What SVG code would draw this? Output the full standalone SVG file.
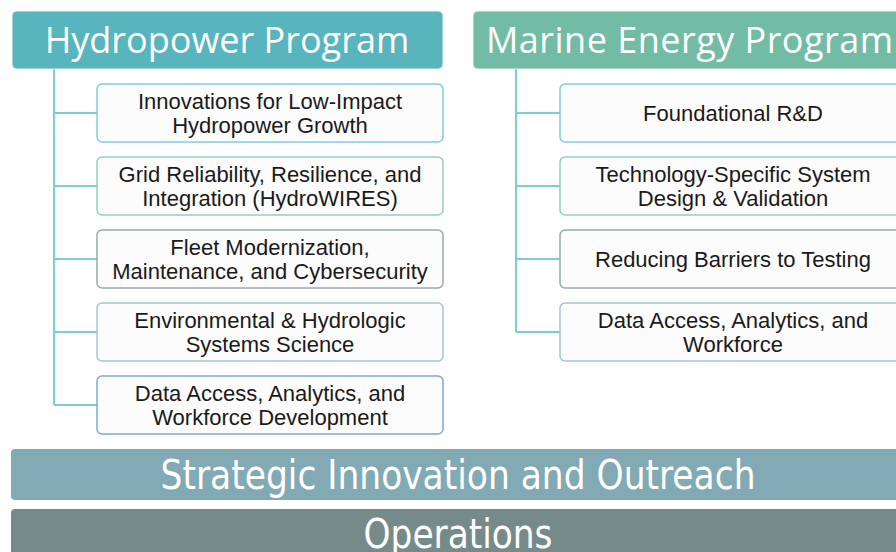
<svg xmlns="http://www.w3.org/2000/svg" width="896" height="552" viewBox="0 0 896 552">
<style>
.hdr{font-family:"Open Sans","Liberation Sans",sans-serif;font-size:36px;fill:#ffffff;text-anchor:middle}
.bar{font-family:"DejaVu Sans Condensed","Liberation Sans",sans-serif;font-size:40px;fill:#ffffff;text-anchor:middle}
.box{fill:#fcfcfc;stroke-width:1.5}
.lbl{font-family:"Liberation Sans","Arial",sans-serif;font-size:22px;fill:#1a1a1a;text-anchor:middle}
.conn{fill:none;stroke:#7ccdd5;stroke-width:2}
</style>
<rect width="896" height="552" fill="#ffffff"/>
<g id="connectors">
<path class="conn" d="M54 69 V405 M54 113 H97 M54 186 H97 M54 259 H97 M54 332 H97 M54 405 H97"/>
<path class="conn" d="M516 69 V332 M516 113 H560 M516 186 H560 M516 259 H560 M516 332 H560"/>
</g>
<g id="hydropower-program">
<rect x="12" y="11" width="431" height="58" rx="5" fill="#58b4bd" stroke="#e6f3f4" stroke-width="1"/>
<text class="hdr" x="227" y="53">Hydropower Program</text>
</g>
<g id="marine-energy-program">
<rect x="473" y="11" width="440" height="58" rx="5" fill="#72bca6" stroke="#e6f3ef" stroke-width="1"/>
<text class="hdr" x="689.5" y="53" textLength="407" lengthAdjust="spacing">Marine Energy Program</text>
</g>
<g id="h1"><rect class="box" x="97" y="84" width="346" height="58" rx="5" stroke="#7fd0d6"/>
<text class="lbl" x="270" y="109">Innovations for Low-Impact</text><text class="lbl" x="270" y="133">Hydropower Growth</text></g>
<g id="h2"><rect class="box" x="97" y="157" width="346" height="58" rx="5" stroke="#8fd1c0"/>
<text class="lbl" x="270" y="182">Grid Reliability, Resilience, and</text><text class="lbl" x="270" y="206">Integration (HydroWIRES)</text></g>
<g id="h3"><rect class="box" x="97" y="230" width="346" height="58" rx="5" stroke="#9aaaaa"/>
<text class="lbl" x="270" y="255">Fleet Modernization,</text><text class="lbl" x="270" y="279">Maintenance, and Cybersecurity</text></g>
<g id="h4"><rect class="box" x="97" y="303" width="346" height="58" rx="5" stroke="#a4c8cc"/>
<text class="lbl" x="270" y="328">Environmental &amp; Hydrologic</text><text class="lbl" x="270" y="352">Systems Science</text></g>
<g id="h5"><rect class="box" x="97" y="376" width="346" height="58" rx="5" stroke="#7aaadc"/>
<text class="lbl" x="270" y="401">Data Access, Analytics, and</text><text class="lbl" x="270" y="425">Workforce Development</text></g>
<g id="m1"><rect class="box" x="560" y="84" width="350" height="58" rx="5" stroke="#7fd0d6"/>
<text class="lbl" x="733" y="121">Foundational R&amp;D</text></g>
<g id="m2"><rect class="box" x="560" y="157" width="350" height="58" rx="5" stroke="#8fd1c0"/>
<text class="lbl" x="733" y="182">Technology-Specific System</text><text class="lbl" x="733" y="206">Design &amp; Validation</text></g>
<g id="m3"><rect class="box" x="560" y="230" width="350" height="58" rx="5" stroke="#9aaaaa"/>
<text class="lbl" x="733" y="267">Reducing Barriers to Testing</text></g>
<g id="m4"><rect class="box" x="560" y="303" width="350" height="58" rx="5" stroke="#a4c8cc"/>
<text class="lbl" x="733" y="328">Data Access, Analytics, and</text><text class="lbl" x="733" y="352">Workforce</text></g>
<g id="strategic-innovation">
<rect x="11" y="449" width="900" height="51" rx="4" fill="#82aab4"/>
<text class="bar" x="458" y="489" textLength="595" lengthAdjust="spacingAndGlyphs">Strategic Innovation and Outreach</text>
</g>
<g id="operations">
<rect x="11" y="509" width="900" height="60" rx="4" fill="#778a8a"/>
<text class="bar" x="458" y="548" textLength="189" lengthAdjust="spacingAndGlyphs">Operations</text>
</g>
</svg>
